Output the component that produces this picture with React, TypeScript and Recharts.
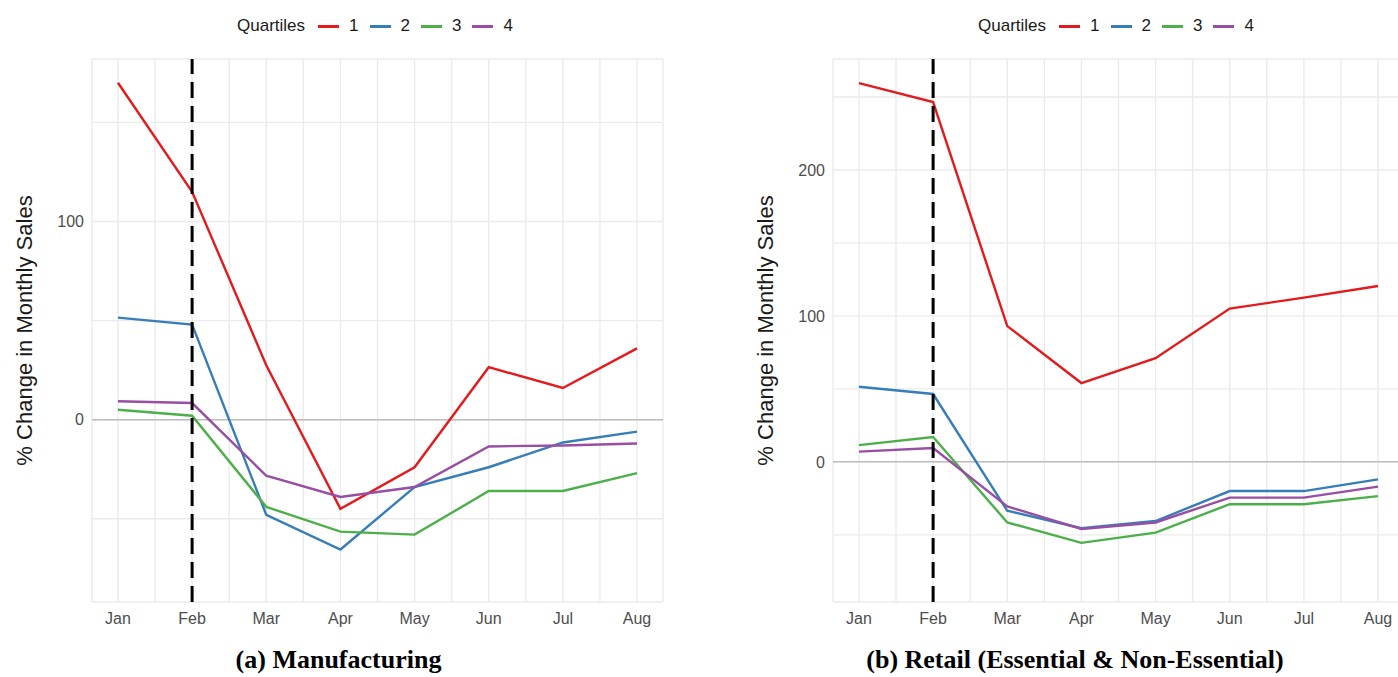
import { LineChart, Line, XAxis, YAxis, CartesianGrid, ReferenceLine } from 'recharts'

const months = ['Jan', 'Feb', 'Mar', 'Apr', 'May', 'Jun', 'Jul', 'Aug']
const quartiles = ['1', '2', '3', '4']
const colors = ['#E41A1C', '#377EB8', '#4DAF4A', '#984EA3']

// Manufacturing, % change in monthly sales by quartile
const mfgQ1 = [170, 115, 27.5, -45, -24, 26.5, 16, 36]
const mfgQ2 = [51.5, 48, -48, -65.5, -34, -24, -11.5, -6]
const mfgQ3 = [5, 2, -44, -56.5, -58, -36, -36, -27]
const mfgQ4 = [9.3, 8.4, -28.3, -39, -34, -13.5, -13, -12]

// Retail (essential & non-essential)
const retQ1 = [259.5, 246.5, 93, 54, 71, 105, 112.5, 120.5]
const retQ2 = [51.5, 46.5, -33.5, -45.5, -40.5, -20, -20, -12]
const retQ3 = [11.5, 17, -41.5, -55.5, -48.5, -29, -29, -23.5]
const retQ4 = [7, 9.5, -30.5, -46, -41.5, -24.5, -24.5, -17]

const mfgTicks = [-50, 0, 50, 100, 150]
const retTicks = [-50, 0, 50, 100, 150, 200, 250]

const SANS = '"Liberation Sans", Arial, sans-serif'
const SERIF = '"Liberation Serif", "Times New Roman", serif'
const GRID = '#ebebeb'

// month ticks plus minor ticks half way between them
const xTicks = months.flatMap((_, i) => (i < months.length - 1 ? [i, i + 0.5] : [i]))

const toRows = (series: number[][]) =>
  months.map((m, i) => {
    const row: Record<string, number | string> = { idx: i, month: m }
    series.forEach((s, k) => { row['q' + quartiles[k]] = s[i] })
    return row
  })

function YTitle({ viewBox, cx }: { viewBox?: any; cx: number }) {
  if (!viewBox) return null
  const x = viewBox.x + cx
  const y = viewBox.y + viewBox.height / 2
  return (
    <text x={x} y={y} transform={`rotate(-90, ${x}, ${y})`} textAnchor="middle" dominantBaseline="central"
      fontSize={22} fontFamily={SANS} fill="#1a1a1a">
      % Change in Monthly Sales
    </text>
  )
}

function Panel({ series, domain, ticks, width, axisWidth, titleX }: {
  series: number[][]; domain: [number, number]; ticks: number[]; width: number; axisWidth: number; titleX: number
}) {
  const rows = toRows(series)
  return (
    <LineChart width={width} height={640} data={rows} margin={{ top: 59, right: 37, bottom: 0, left: 0 }}>
      <CartesianGrid stroke={GRID} strokeWidth={1.4} />
      <XAxis dataKey="idx" type="number" domain={[-0.35, 7.35]} ticks={xTicks} interval={0} allowDataOverflow
        height={38} axisLine={false} tickLine={false} tickMargin={5}
        tick={{ fill: '#4d4d4d', fontSize: 16, fontFamily: SANS }}
        tickFormatter={(v: number) => (Number.isInteger(v) ? months[v] : '')} />
      <YAxis type="number" domain={domain} ticks={ticks} interval={0} allowDataOverflow width={axisWidth}
        axisLine={false} tickLine={false}
        tick={{ fill: '#4d4d4d', fontSize: 16, fontFamily: SANS }}
        tickFormatter={(v: number) => (v % 100 === 0 ? String(v) : '')}
        label={{ content: (p: any) => <YTitle viewBox={p.viewBox} cx={titleX} /> }} />
      <ReferenceLine y={0} stroke="#bdbdbd" strokeWidth={1.5} />
      {quartiles.map((q, k) => (
        <Line key={q} type="linear" dataKey={'q' + q} stroke={colors[k]} strokeWidth={2.4}
          dot={false} activeDot={false} isAnimationActive={false} />
      ))}
      <ReferenceLine x={1} stroke="#000" strokeWidth={3} strokeDasharray="16 8" />
    </LineChart>
  )
}

function QuartileLegend({ left }: { left: number }) {
  return (
    <div style={{ position: 'absolute', left, top: 15, height: 22, display: 'flex', alignItems: 'center',
      fontFamily: SANS, fontSize: 17, color: '#1a1a1a', whiteSpace: 'nowrap' }}>
      <span style={{ marginRight: 13 }}>Quartiles</span>
      {quartiles.map((q, k) => (
        <span key={q} style={{ display: 'flex', alignItems: 'center' }}>
          <span style={{ width: 21, height: 3, background: colors[k], marginRight: 10 }} />
          <span style={{ marginRight: 11 }}>{q}</span>
        </span>
      ))}
    </div>
  )
}

function Caption({ text, center }: { text: string; center: number }) {
  return (
    <div style={{ position: 'absolute', left: center - 300, width: 600, top: 647, textAlign: 'center',
      fontFamily: SERIF, fontWeight: 'bold', fontSize: 26, lineHeight: '26px', color: '#000' }}>
      {text}
    </div>
  )
}

export default function App() {
  return (
    <div style={{ position: 'absolute', left: 0, top: 0, width: 1398, height: 677, overflow: 'hidden', background: '#fff' }}>
      <div style={{ position: 'absolute', left: 0, top: 0 }}>
        <Panel series={[mfgQ1, mfgQ2, mfgQ3, mfgQ4]} domain={[-92, 182]} ticks={mfgTicks}
          width={700} axisWidth={92} titleX={24} />
      </div>
      <div style={{ position: 'absolute', left: 700, top: 0 }}>
        <Panel series={[retQ1, retQ2, retQ3, retQ4]} domain={[-96, 276]} ticks={retTicks}
          width={741} axisWidth={133} titleX={65} />
      </div>
      <QuartileLegend left={237} />
      <QuartileLegend left={978} />
      <Caption text="(a) Manufacturing" center={338.5} />
      <Caption text="(b) Retail (Essential & Non-Essential)" center={1075} />
    </div>
  )
}
